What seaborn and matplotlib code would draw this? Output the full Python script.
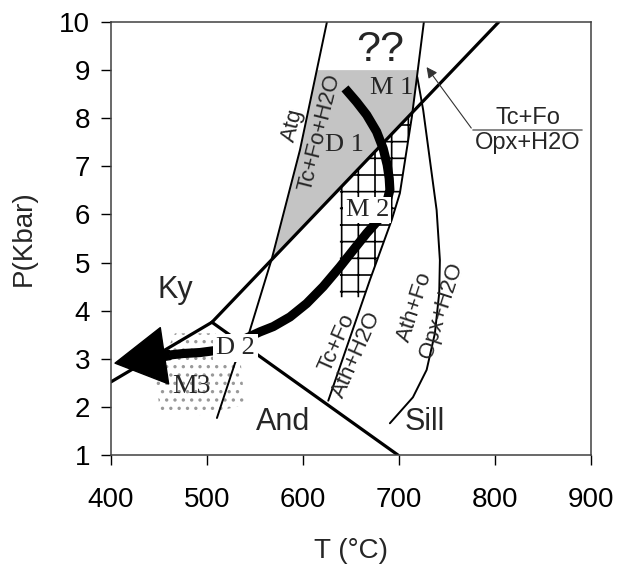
import numpy as np
import pandas as pd
import seaborn as sns
import matplotlib
matplotlib.use('Agg')
import matplotlib.pyplot as plt
from matplotlib.patches import Polygon

# phase boundaries (T in degC, P in kbar)
ky_sill_T = [505.2, 804.0]
ky_sill_P = [3.76, 10.0]
and_ky_T = [400.0, 505.2]
and_ky_P = [2.52, 3.76]
and_sill_T = [505.2, 699.0]
and_sill_P = [3.76, 1.0]

atg_T = [625.0, 596.9, 567.7, 543.8, 529.2, 510.4]
atg_P = [10.0, 7.34, 5.09, 3.53, 2.91, 1.77]

tcfo_ath_T = [726.0, 718.8, 713.5, 701.0, 692.4, 669.8, 626.4]
tcfo_ath_P = [10.0, 8.86, 8.03, 6.44, 5.88, 4.64, 2.13]

opx_T = [719.1, 725.3, 732.3, 739.3, 742.7, 742.0, 737.5, 728.9, 714.6, 690.6]
opx_P = [8.86, 8.17, 7.13, 6.09, 5.05, 4.37, 3.53, 2.77, 2.20, 1.66]

# P-T path (M1 -> M2 -> M3)
path_T = [643.8, 655.9, 666.4, 676.8, 683.6, 687.8, 689.9, 690.6, 686.0,
          678.4, 666.4, 652.4, 638.5, 621.1, 603.9, 586.5, 569.1, 555.2,
          530.0, 511.8, 492.7, 475.3, 461.5]
path_P = [8.62, 8.34, 8.07, 7.72, 7.37, 7.03, 6.75, 6.51, 6.15,
          5.88, 5.61, 5.26, 4.91, 4.50, 4.15, 3.87, 3.67, 3.56,
          3.33, 3.18, 3.13, 3.11, 3.08]
arrow_tip = (404.2, 2.91)

# shaded fields
grey_T = [614.4, 719.7, 718.8, 714.5, 567.7, 596.9]
grey_P = [9.0, 9.0, 8.86, 8.13, 5.09, 7.34]
grid_T = [638.5, 638.5, 714.5, 713.5, 701.0, 692.4, 663.6]
grid_P = [4.28, 6.54, 8.13, 8.03, 6.44, 5.88, 4.28]
dots_T = [466.7, 508.3, 534.4, 539.6, 492.7, 451.0, 445.8]
dots_P = [3.53, 3.53, 3.08, 2.04, 1.83, 1.93, 2.66]

sns.set_style('ticks')
plt.rcParams['font.family'] = ['Liberation Sans', 'DejaVu Sans']
plt.rcParams['hatch.linewidth'] = 1.2

fig = plt.figure(figsize=(6.2, 5.69), dpi=100)
ax = fig.add_axes([0.179, 0.2003, 0.774, 0.7610])

ax.add_patch(Polygon(np.column_stack([grey_T, grey_P]), closed=True,
                     facecolor='#c4c4c4', edgecolor='none', zorder=1))
ax.add_patch(Polygon(np.column_stack([grid_T, grid_P]), closed=True,
                     facecolor='none', edgecolor='k', lw=0, hatch='+', zorder=1))
ax.add_patch(Polygon(np.column_stack([dots_T, dots_P]), closed=True,
                     facecolor='none', edgecolor='0.6', lw=0, hatch='..', zorder=1))

thick = dict(color='k', lw=2.3, sort=False, estimator=None, ax=ax)
thin = dict(color='k', lw=1.4, sort=False, estimator=None, ax=ax)
sns.lineplot(x=ky_sill_T, y=ky_sill_P, **thick)
sns.lineplot(x=and_ky_T, y=and_ky_P, **thick)
sns.lineplot(x=and_sill_T, y=and_sill_P, **thick)
sns.lineplot(x=atg_T, y=atg_P, **thin)
sns.lineplot(x=tcfo_ath_T, y=tcfo_ath_P, **thin)
sns.lineplot(x=opx_T, y=opx_P, **thin)

sns.lineplot(x=path_T, y=path_P, color='k', lw=6.6, sort=False, estimator=None, ax=ax,
             solid_joinstyle='round', solid_capstyle='butt', zorder=3)
ax.annotate('', xy=arrow_tip, xytext=(path_T[-1], path_P[-1]),
            arrowprops=dict(facecolor='k', edgecolor='k', width=6.6,
                            headwidth=41, headlength=36, shrink=0), zorder=3)

# labels
serif = ['Liberation Serif', 'DejaVu Serif']
ax.text(680, 9.42, '??', fontsize=31, ha='center', va='center')
ax.text(692, 8.63, 'M 1', fontsize=19, family=serif, ha='center', va='center', zorder=4)
ax.text(643.5, 7.44, 'D 1', fontsize=19, family=serif, ha='center', va='center', zorder=4)
ax.text(667, 6.09, 'M 2', fontsize=19, family=serif, ha='center', va='center', zorder=4,
        bbox=dict(facecolor='white', edgecolor='none', pad=1.5))
ax.text(530, 3.22, 'D 2', fontsize=19, family=serif, ha='center', va='center', zorder=4,
        bbox=dict(facecolor='white', edgecolor='none', pad=2))
ax.text(484, 2.42, 'M3', fontsize=20, family=serif, ha='center', va='center', zorder=4)

ax.text(466.7, 4.43, 'Ky', fontsize=22, ha='center', va='center')
ax.text(579, 1.69, 'And', fontsize=22, ha='center', va='center')
ax.text(727, 1.69, 'Sill', fontsize=22, ha='center', va='center')

ax.text(589.6, 7.86, 'Atg', fontsize=16, rotation=76, ha='center', va='center')
ax.text(617.5, 7.71, 'Tc+Fo+H2O', fontsize=16, rotation=76, ha='center', va='center')
ax.text(635.4, 3.33, 'Tc+Fo', fontsize=16, rotation=66, ha='center', va='center')
ax.text(656.2, 3.08, 'Ath+H2O', fontsize=16, rotation=66, ha='center', va='center')
ax.text(716.7, 4.07, 'Ath+Fo', fontsize=16, rotation=72, ha='center', va='center')
ax.text(744.5, 4.01, 'Opx+H2O', fontsize=16, rotation=72, ha='center', va='center')

ax.text(834.4, 8.0, 'Tc+Fo', fontsize=17, ha='center', va='center')
ax.text(834.4, 7.48, 'Opx+H2O', fontsize=17, ha='center', va='center')
ax.plot([777.1, 890.6], [7.75, 7.75], color='0.45', lw=1.2)
ax.annotate('', xy=(727.1, 9.11), xytext=(777.1, 7.75),
            arrowprops=dict(arrowstyle='-|>', color='0.2', lw=0.8, mutation_scale=16))

ax.set_xlim(400, 900)
ax.set_ylim(1, 10)
ax.set_xticks(range(400, 901, 100))
ax.set_yticks(range(1, 11))
ax.tick_params(direction='out', length=7, width=1, labelsize=20, pad=16, colors='k')
ax.tick_params(axis='y', pad=8)
for s in ax.spines.values():
    s.set_linewidth(1.1)
    s.set_color('0.25')
ax.set_xlabel('T (°C)', fontsize=20, labelpad=18)
ax.set_ylabel('P(Kbar)', fontsize=20, labelpad=16)

fig.savefig('out.png', dpi=100)
